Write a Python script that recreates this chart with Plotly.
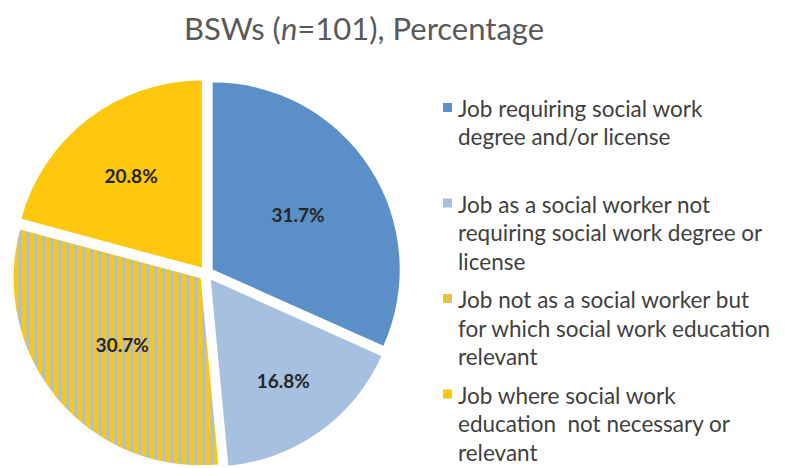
import plotly.graph_objects as go

# Survey breakdown of BSW graduates' employment (n = 101)
categories = [
    "Job requiring social work<br>degree and/or license<br> ",
    "Job as a social worker not<br>requiring social work degree or<br>license",
    "Job not as a social worker but<br>for which social work education<br>relevant",
    "Job where social work<br>education  not necessary or<br>relevant",
]
percentages = [31.7, 16.8, 30.7, 20.8]
title_text = "BSWs (<i>n</i>=101), Percentage"

BLUE = "#5B8FC7"
LIGHT_BLUE = "#A6C0E0"
YELLOW = "#FDC70D"
slice_colors = [BLUE, LIGHT_BLUE, YELLOW, YELLOW]
pattern_shapes = ["", "", "|", ""]

W, H = 785, 468
FONT = "Lato"


def px(x):
    return x / W


def py(y):
    return 1 - y / H


fig = go.Figure()

fig.add_trace(go.Pie(
    values=percentages,
    labels=[c.replace("<br>", " ").strip() for c in categories],
    sort=False,
    direction="clockwise",
    rotation=0,
    pull=0.04,
    marker=dict(
        colors=slice_colors,
        line=dict(width=0),
        pattern=dict(
            shape=pattern_shapes,
            fgcolor=[LIGHT_BLUE] * 4,
            bgcolor=slice_colors,
            size=8,
            solidity=0.4,
            fillmode="replace",
        ),
    ),
    texttemplate="%{value:.1f}%",
    textposition="inside",
    insidetextorientation="horizontal",
    textfont=dict(family=FONT, size=19, color="#262626", weight="bold"),
    hoverinfo="label+value",
    showlegend=False,
    domain=dict(x=[px(11.9), px(400.9)], y=[0, 389 / H]),
))

# Legend drawn beside the pie: colour key plus wrapped label lines
annotations = []
shapes = []
key_x0, key_size = 443, 9
text_x = 456
first_baseline = 118
line_h = 28.5
entry_step = 95.5
for i, label in enumerate(categories):
    base = first_baseline + i * entry_step
    for j, line in enumerate(label.split("<br>")):
        if not line.strip():
            continue
        yb = base + j * line_h
        annotations.append(dict(
            x=px(text_x), y=py(yb + 6), xref="paper", yref="paper",
            xanchor="left", yanchor="bottom", showarrow=False,
            text=line.replace("  ", "\u00a0 "),
            font=dict(family=FONT, size=22.5, color="#404040"),
        ))
    top = base - 15
    shapes.append(dict(
        type="rect", xref="paper", yref="paper",
        x0=px(key_x0), x1=px(key_x0 + key_size),
        y0=py(top + key_size), y1=py(top),
        fillcolor=slice_colors[i], line=dict(width=0),
    ))
    if pattern_shapes[i] == "|":
        for sx in (445, 449):
            shapes.append(dict(
                type="rect", xref="paper", yref="paper",
                x0=px(sx), x1=px(sx + 1.6),
                y0=py(top + key_size), y1=py(top),
                fillcolor=LIGHT_BLUE, line=dict(width=0),
            ))

annotations.append(dict(
    x=px(364), y=py(28), xref="paper", yref="paper",
    xanchor="center", yanchor="middle", showarrow=False,
    text=title_text,
    font=dict(family=FONT, size=31, color="#595959"),
))

fig.update_layout(
    width=W, height=H,
    margin=dict(l=0, r=0, t=0, b=0),
    paper_bgcolor="white",
    plot_bgcolor="white",
    annotations=annotations,
    shapes=shapes,
)

fig.write_html("out.html")
